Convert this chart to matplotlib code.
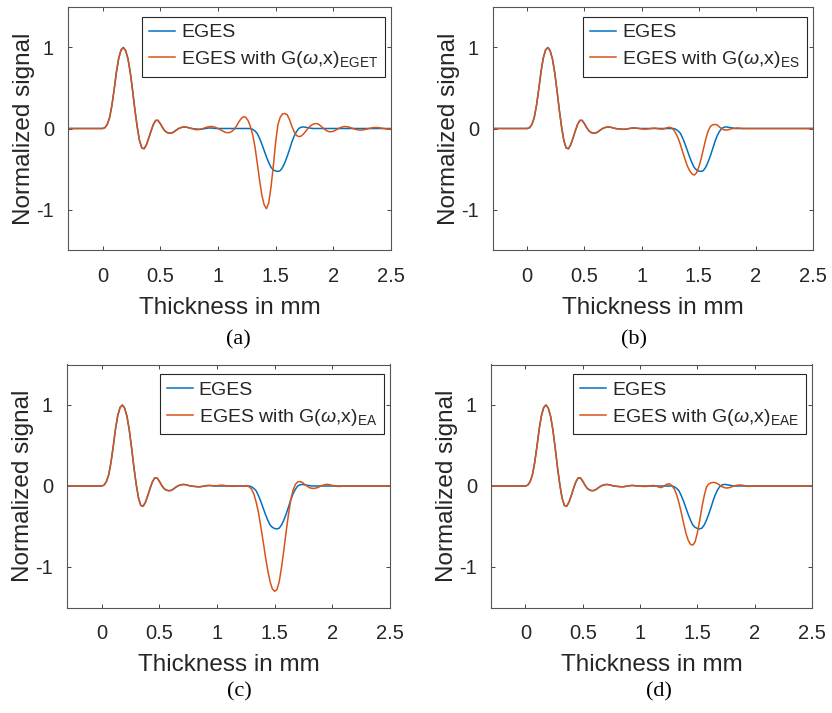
import matplotlib.pyplot as plt
import numpy as np

plt.rcParams['font.family'] = ['Liberation Sans', 'DejaVu Sans']
plt.rcParams['mathtext.fontset'] = 'custom'
plt.rcParams['mathtext.rm'] = 'Liberation Sans'
plt.rcParams['mathtext.it'] = 'Liberation Sans:italic'

# Thickness axis (mm), one sample every 0.02 mm
thickness = np.round(np.arange(-0.30, 2.5001, 0.02), 2)

# Normalized signal from -0.30 to 0.78 mm (front echo, identical for all curves)
front = [0, 0, 0, 0, 0,
         0, 0, 0, 0, 0,
         0, 0, 0, 0, 0,
         0.00, 0.01, 0.05, 0.13, 0.28,
         0.48, 0.70, 0.87, 0.97, 1.00,
         0.96, 0.86, 0.69, 0.47, 0.23,
         0.02, -0.15, -0.24, -0.25, -0.20,
         -0.12, -0.03, 0.05, 0.10, 0.10,
         0.06, 0.01, -0.03, -0.05, -0.058,
         -0.055, -0.04, -0.018, 0.00, 0.012,
         0.018, 0.018, 0.012, 0.004, -0.002]

# Normalized signal from 0.80 to 2.50 mm, one row per 0.1 mm
eges_tail = [-0.005, -0.008, -0.01, -0.008, -0.003,
             0.003, 0.006, 0.006, 0.003, 0.0,
             0, 0, 0, 0, 0,
             0, 0, 0, 0, 0,
             0, 0, 0, 0, 0,
             -0.01, -0.03, -0.06, -0.12, -0.19,
             -0.27, -0.35, -0.42, -0.48, -0.51,
             -0.525, -0.53, -0.52, -0.48, -0.42,
             -0.345, -0.26, -0.17, -0.095, -0.04,
             0.0, 0.015, 0.02, 0.015, 0.01,
             0.005, 0, 0, 0, 0,
             0, 0, 0, 0, 0,
             0, 0, 0, 0, 0,
             0, 0, 0, 0, 0,
             0, 0, 0, 0, 0,
             0, 0, 0, 0, 0,
             0, 0, 0, 0, 0,
             0]

eget_tail = [-0.012, -0.015, -0.012, -0.005, 0.005,
             0.015, 0.022, 0.025, 0.022, 0.012,
             0.0, -0.015, -0.03, -0.045, -0.052,
             -0.05, -0.035, -0.01, 0.03, 0.08,
             0.12, 0.145, 0.14, 0.10, 0.03,
             -0.07, -0.22, -0.42, -0.63, -0.82,
             -0.94, -0.99, -0.92, -0.72, -0.46,
             -0.17, 0.05, 0.14, 0.18, 0.185,
             0.17, 0.11, 0.03, -0.04, -0.085,
             -0.10, -0.095, -0.07, -0.035, 0.0,
             0.03, 0.05, 0.06, 0.06, 0.045,
             0.02, -0.005, -0.025, -0.038, -0.04,
             -0.035, -0.02, -0.005, 0.01, 0.02,
             0.025, 0.022, 0.015, 0.005, -0.005,
             -0.013, -0.018, -0.02, -0.017, -0.01,
             -0.002, 0.005, 0.01, 0.012, 0.012,
             0.009, 0.004, -0.002, -0.006, -0.007,
             -0.005]

es_tail = [-0.005, -0.008, -0.01, -0.008, -0.003,
           0.003, 0.006, 0.006, 0.003, 0.0,
           -0.005, -0.008, -0.008, -0.005, 0.0,
           0.004, 0.005, 0.0, -0.006, -0.008,
           -0.002, 0.008, 0.015, 0.008, -0.015,
           -0.06, -0.12, -0.20, -0.29, -0.38,
           -0.46, -0.52, -0.56, -0.575, -0.55,
           -0.48, -0.38, -0.26, -0.14, -0.04,
           0.02, 0.045, 0.05, 0.045, 0.02,
           0.0, -0.015, -0.02, -0.015, -0.005,
           0.0, 0.004, 0.006, 0.004, 0.0,
           0, 0, 0, 0, 0,
           0, 0, 0, 0, 0,
           0, 0, 0, 0, 0,
           0, 0, 0, 0, 0,
           0, 0, 0, 0, 0,
           0, 0, 0, 0, 0,
           0]

ea_tail = [-0.005, -0.008, -0.01, -0.008, -0.003,
           0.003, 0.006, 0.006, 0.003, 0.0,
           0.003, 0.008, 0.01, 0.008, 0.003,
           0.0, -0.003, -0.004, -0.002, 0.0,
           0.0, 0.0, 0.002, 0.0, -0.01,
           -0.04, -0.10, -0.20, -0.33, -0.50,
           -0.68, -0.87, -1.04, -1.18, -1.27,
           -1.30, -1.28, -1.18, -1.00, -0.79,
           -0.56, -0.35, -0.17, -0.05, 0.02,
           0.05, 0.055, 0.045, 0.02, 0.0,
           -0.02, -0.028, -0.03, -0.025, -0.015,
           0.0, 0.01, 0.018, 0.02, 0.015,
           0.008, 0.0, -0.004, -0.005, -0.003,
           0, 0, 0, 0, 0,
           0, 0, 0, 0, 0,
           0, 0, 0, 0, 0,
           0, 0, 0, 0, 0,
           0]

eae_tail = [-0.005, -0.008, -0.01, -0.008, -0.003,
            0.003, 0.006, 0.006, 0.003, 0.0,
            0.0, -0.004, -0.006, -0.004, 0.0,
            0.005, 0.006, 0.0, -0.012, -0.02,
            -0.01, 0.01, 0.025, 0.025, 0.0,
            -0.04, -0.11, -0.21, -0.33, -0.46,
            -0.58, -0.67, -0.72, -0.73, -0.69,
            -0.58, -0.43, -0.26, -0.12, -0.01,
            0.025, 0.04, 0.045, 0.04, 0.025,
            0.005, -0.012, -0.022, -0.025, -0.02,
            -0.01, 0.0, 0.008, 0.012, 0.012,
            0.008, 0.0, -0.004, -0.004, 0.0,
            0, 0, 0, 0, 0,
            0, 0, 0, 0, 0,
            0, 0, 0, 0, 0,
            0, 0, 0, 0, 0,
            0, 0, 0, 0, 0,
            0]

model_names = ['EGET', 'ES', 'EA', 'EAE']
model_tails = [eget_tail, es_tail, ea_tail, eae_tail]
panel_tags = ['(a)', '(b)', '(c)', '(d)']

x_ticks = [0, 0.5, 1, 1.5, 2, 2.5]
x_ticklabels = ['0', '0.5', '1', '1.5', '2', '2.5']
y_ticks = [-1, 0, 1]
y_ticklabels = ['-1', '0', '1']

blue = '#0072BD'
orange = '#D95319'
dark = '#262626'

W, H = 832, 713
fig = plt.figure(figsize=(W / 100, H / 100), dpi=100)

# axes boxes in pixels: left, top, right, bottom
boxes = [(68, 7, 391, 250), (493, 7, 813, 250),
         (67, 364.5, 390, 607.5), (491, 364.5, 812, 607.5)]
tag_pos = [(238, 340), (634, 340), (239, 692), (659, 692)]

eges = np.array(front + eges_tail)

for k in range(4):
    l, t, r, b = boxes[k]
    ax = fig.add_axes([l / W, 1 - b / H, (r - l) / W, (b - t) / H])
    model = np.array(front + model_tails[k])

    ax.plot(thickness, eges, color=blue, lw=1.1, label='EGES')
    ax.plot(thickness, model, color=orange, lw=1.1,
            label='EGES with G($\\omega$,x)$_{\\mathrm{%s}}$' % model_names[k])

    ax.set_xlim(-0.3, 2.5)
    ax.set_ylim(-1.5, 1.5)
    ax.set_xticks(x_ticks)
    ax.set_xticklabels(x_ticklabels)
    ax.set_yticks(y_ticks)
    ax.set_yticklabels(y_ticklabels)
    ax.tick_params(direction='in', top=True, right=True, length=3, width=0.6,
                   color=dark, labelcolor=dark, labelsize=14.5)
    ax.tick_params(axis='x', pad=12)
    ax.tick_params(axis='y', pad=10)
    for sp in ax.spines.values():
        sp.set_color('#555555')
        sp.set_linewidth(0.8)

    ax.set_xlabel('Thickness in mm', fontsize=17.5, color=dark, labelpad=8)
    ax.set_ylabel('Normalized signal', fontsize=17.5, color=dark, labelpad=1)

    leg = ax.legend(loc='upper right', bbox_to_anchor=(1 - 6 / (r - l), 1 - 10 / (b - t)),
                    borderaxespad=0, fontsize=14, fancybox=False, framealpha=1,
                    edgecolor=dark, handlelength=1.35, handletextpad=0.3,
                    labelspacing=0.4, borderpad=0.35)
    leg.get_frame().set_linewidth(0.8)
    for txt in leg.get_texts():
        txt.set_color(dark)

    fig.text(tag_pos[k][0] / W, 1 - tag_pos[k][1] / H, panel_tags[k],
             ha='center', va='center', family='Liberation Serif', fontsize=16, color='black')

fig.savefig('out.png', dpi=100)
